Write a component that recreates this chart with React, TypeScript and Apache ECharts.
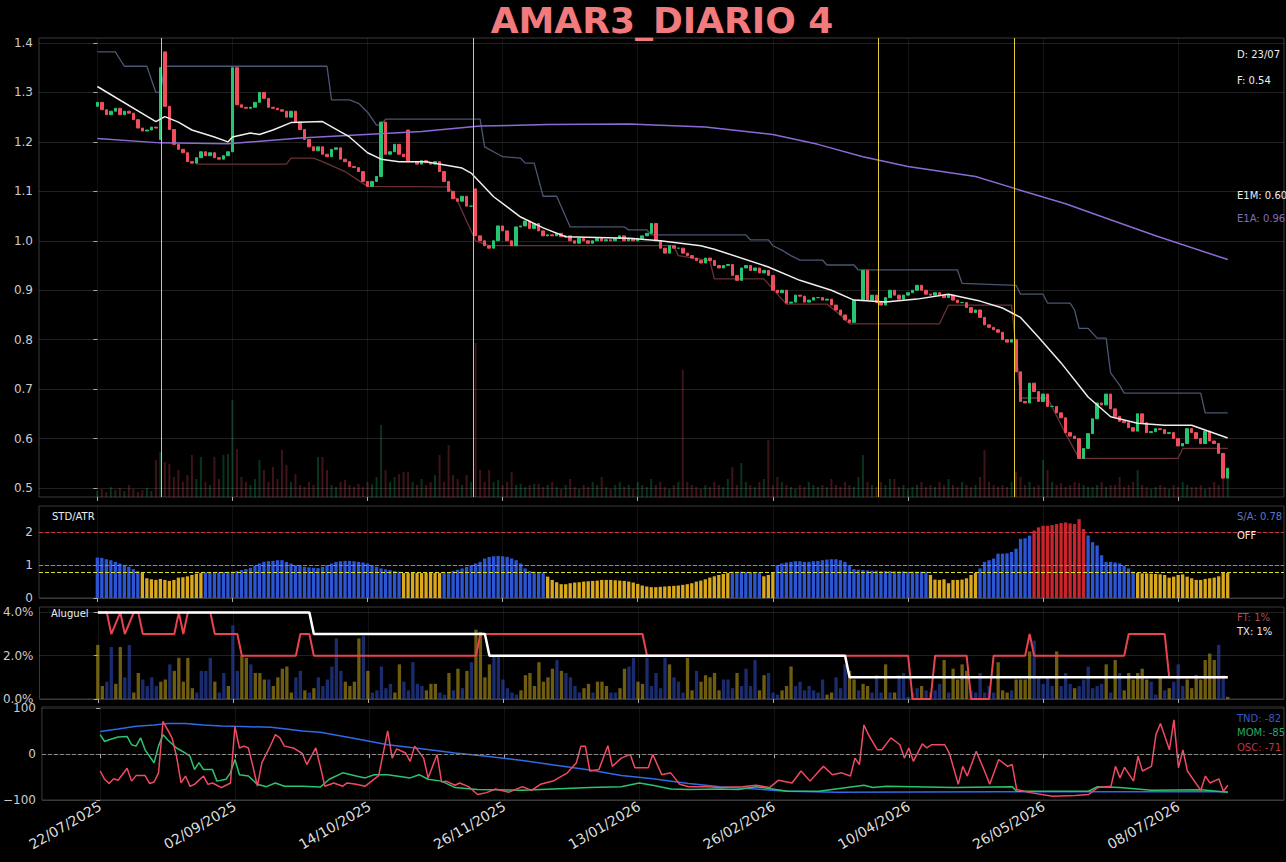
import React, { useEffect, useRef } from "react";
import * as echarts from "echarts";

const TICK_INDEX = [0, 30, 60, 90, 120, 150, 180, 210, 240];
const TICK_LABELS = ["22/07/2025", "02/09/2025", "14/10/2025", "26/11/2025", "13/01/2026", "26/02/2026", "10/04/2026", "26/05/2026", "08/07/2026"];

// closing price x1000, one per trading day
const CLOSE = [
  1280, 1265, 1255, 1262, 1268, 1255, 1262, 1258, 1245, 1228,
  1222, 1224, 1230, 1228, 1350, 1272, 1225, 1195, 1185, 1178,
  1160, 1157, 1168, 1180, 1172, 1178, 1168, 1165, 1172, 1180,
  1350, 1275, 1270, 1268, 1270, 1280, 1300, 1288, 1270, 1268,
  1265, 1262, 1250, 1262, 1240, 1225, 1205, 1190, 1182, 1190,
  1175, 1170, 1185, 1188, 1165, 1160, 1150, 1148, 1140, 1120,
  1110, 1120, 1130, 1240, 1175, 1180, 1195, 1175, 1170, 1160,
  1160, 1155, 1162, 1158, 1155, 1160, 1140, 1120, 1100, 1085,
  1080, 1090, 1070, 1070, 1010, 1000, 990, 985, 1000, 1030,
  1020, 1000, 990, 1028, 1030, 1040, 1025, 1035, 1020, 1010,
  1012, 1010, 1015, 1008, 1010, 1000, 995, 1005, 1000, 995,
  1000, 1005, 1000, 1002, 1000, 1005, 1010, 1000, 1005, 1000,
  1005, 1010, 1015, 1035, 1000, 985, 975, 990, 985, 985,
  975, 970, 965, 960, 955, 965, 960, 950, 945, 950,
  952, 930, 920, 945, 950, 940, 945, 935, 940, 930,
  900, 895, 900, 874, 876, 890, 888, 876, 880, 885,
  885, 880, 882, 870, 860, 850, 840, 835, 880, 880,
  940, 880, 890, 875, 870, 885, 900, 890, 882, 890,
  895, 900, 910, 900, 892, 890, 895, 890, 885, 890,
  880, 875, 875, 865, 855, 860, 845, 830, 825, 820,
  815, 800, 795, 800, 735, 675, 672, 712, 695, 675,
  690, 665, 665, 652, 642, 612, 605, 600, 560, 580,
  610, 640, 672, 668, 690, 660, 645, 635, 632, 622,
  615, 650, 632, 612, 614, 620, 618, 610, 612, 600,
  585, 590, 620, 612, 600, 590, 615, 595, 590, 570,
  520, 540,
];
// days whose open differs from the previous close: [day, open x1000]
const OPEN_GAPS = [[0, 1272], [14, 1205], [15, 1382], [69, 1224], [84, 1105]];

const VOLUME = [
  6, 8, 5, 10, 7, 9, 6, 12, 8, 5, 7, 9, 6,
  37, 45, 35, 33, 20, 27, 15, 22, 42, 18, 40, 15, 12, 40, 18, 42, 43,
  97, 48, 20, 15, 12, 18, 37, 27, 15, 30, 18, 47, 32, 15, 23, 12, 10, 15, 12,
  40, 40, 27, 12, 10, 15, 17, 12, 10, 13, 10, 15, 13, 20, 72, 27, 15, 20, 23, 25,
  25, 15, 12, 18, 12, 15, 22, 42, 15, 52, 22, 18, 12, 22, 15, 154, 27, 15, 27, 15,
  17, 12, 15, 25, 12, 13, 10, 12, 13, 13, 10,
  12, 15, 10, 8, 12, 18, 10, 8, 12, 10, 15, 12, 20, 10, 8, 12, 15, 10, 12, 8,
  15, 12, 10, 18, 12, 15, 10, 8, 12, 15,
  127,
  15, 12, 10, 8, 12, 10, 15, 12, 10, 18, 30, 12, 34, 15, 12, 10, 15, 18, 57, 12,
  20, 15, 12, 10, 8, 12, 10, 15, 12, 10,
  12, 10, 18, 12, 10, 15, 12, 10, 20, 42, 15, 12, 10, 15, 12, 18, 18, 10, 12, 8,
  10, 12, 15, 10, 12, 10, 15, 12, 18, 12, 10, 15, 12, 10, 12, 20, 47, 15, 12, 10,
  12, 10, 15, 25, 20, 12, 15, 10, 12, 37, 27, 15, 12, 14, 10, 12, 15, 14, 12, 10,
  10, 12, 15, 10, 12, 12, 20, 10, 12, 15, 27, 12, 10, 8, 10, 12, 10, 8, 12, 10,
  15, 12, 10, 10, 12, 8, 10, 15, 12, 40, 20,
];

const UPPER_BAND = [[0, 1.382], [4, 1.382], [6, 1.353], [11, 1.353], [13, 1.30], [14, 1.30], [15, 1.353], [51, 1.353], [52, 1.285], [56, 1.285], [58, 1.278], [60, 1.26], [62, 1.234], [63, 1.234], [64, 1.246], [85, 1.246], [86, 1.19], [90, 1.17], [94, 1.167], [95, 1.157], [97, 1.157], [99, 1.09], [102, 1.09], [105, 1.028], [117, 1.028], [118, 1.022], [122, 1.022], [123, 1.012], [144, 1.012], [145, 1.002], [149, 1.002], [150, 0.99], [152, 0.981], [154, 0.97], [156, 0.961], [161, 0.961], [162, 0.951], [168, 0.951], [169, 0.941], [191, 0.941], [192, 0.914], [204, 0.91], [205, 0.892], [210, 0.892], [211, 0.874], [216, 0.874], [217, 0.86], [218, 0.823], [220, 0.823], [222, 0.803], [224, 0.803], [225, 0.733], [227, 0.708], [228, 0.692], [245, 0.692], [246, 0.652], [251, 0.652]];
const LOWER_BAND = [[22, 1.155], [42, 1.155], [43, 1.167], [48, 1.167], [50, 1.16], [55, 1.14], [60, 1.11], [78, 1.109], [80, 1.08], [84, 1.0], [87, 0.99], [128, 0.99], [129, 0.97], [136, 0.96], [137, 0.923], [148, 0.923], [153, 0.872], [162, 0.872], [165, 0.85], [167, 0.832], [187, 0.832], [189, 0.87], [203, 0.87], [204, 0.78], [205, 0.682], [211, 0.682], [215, 0.61], [218, 0.56], [240, 0.56], [241, 0.58], [251, 0.58]];
const E1M = [[0, 1.312], [13, 1.241], [15, 1.251], [18, 1.24], [21, 1.224], [26, 1.21], [29, 1.2], [30, 1.21], [34, 1.218], [36, 1.215], [39, 1.224], [43, 1.239], [50, 1.241], [56, 1.21], [60, 1.178], [63, 1.165], [67, 1.16], [73, 1.16], [81, 1.147], [83, 1.137], [88, 1.089], [94, 1.048], [99, 1.026], [104, 1.008], [118, 1.005], [125, 1.0], [134, 0.99], [137, 0.983], [149, 0.947], [156, 0.92], [163, 0.9], [168, 0.88], [175, 0.876], [182, 0.882], [189, 0.892], [196, 0.878], [201, 0.864], [205, 0.845], [209, 0.805], [214, 0.753], [220, 0.684], [225, 0.644], [231, 0.631], [237, 0.627], [243, 0.627], [251, 0.601]];
const E1A = [[0, 1.207], [14, 1.198], [29, 1.196], [45, 1.208], [72, 1.221], [85, 1.232], [100, 1.235], [118, 1.236], [135, 1.23], [150, 1.215], [160, 1.195], [170, 1.17], [180, 1.15], [195, 1.13], [204, 1.105], [215, 1.075], [222, 1.052], [235, 1.01], [251, 0.962]];
const EVENT_DAYS = [14.3, 83.4, 173.3, 203.5];

// STD/ATR x100
const STD_ATR = [
  123, 122, 118, 115, 110, 105, 100, 95, 88, 82,
  76, 60, 57, 55, 58, 55, 52, 55, 62, 63, 66, 70, 74, 76,
  78, 78, 78, 78, 79, 80, 80, 82, 85, 88, 92, 98, 105, 110, 112, 113, 115, 115, 110, 105, 100, 98, 95, 93, 92, 91,
  95, 100, 105, 110, 112, 113, 113, 112, 110, 108, 105, 100, 95, 90, 87, 85, 82, 80,
  76, 76, 76, 76, 76, 76, 76, 76, 76,
  78, 79, 82, 86, 90, 95, 100, 105, 110, 120, 125, 127, 128, 127, 125, 120, 115, 105, 90, 82, 80, 78, 78,
  65, 55, 48, 42, 42, 45, 47, 48, 50, 51, 52, 53, 55, 55, 55, 54, 53, 52, 50, 47, 43, 38, 35, 33, 33, 34, 35, 36, 37, 38, 40, 42, 45, 50, 53, 57, 62, 66, 70, 73, 76,
  80, 80, 80, 79, 79, 78, 78,
  66, 70, 76,
  100, 105, 108, 110, 112, 112, 110, 110, 112, 113, 115, 117, 118, 118, 115, 110, 100,
  88, 86, 85, 84, 83, 83, 82, 82, 82, 81, 81, 81, 80, 80, 80, 80, 80,
  70, 56, 55, 57, 45, 55, 55, 56, 60, 70, 76,
  90, 110, 115, 120, 135, 135, 136, 140, 150, 180, 182, 190,
  205, 215, 220, 220, 222, 225, 228, 230, 227, 225, 240, 210,
  190, 170, 160, 130, 110, 110, 108, 105, 98, 90, 80,
  76, 75, 75, 74, 73, 72, 70, 62, 65, 70, 72, 65, 60, 55, 55, 58, 60, 62, 66, 76, 76,
];
const STD_THRESHOLD = 0.77;

// Aluguel bars, percent x10, and bar colour (y = yellow, b = blue)
const ALUGUEL = [
  25, 6, 8, 24, 7, 24, 10, 25, 3, 12, 9, 6, 10, 6, 8, 9, 16, 13, 19, 8,
  19, 5, 3, 13, 13, 19, 8, 3, 12, 6, 34, 13, 20, 19, 16, 12, 12, 9, 9, 6,
  10, 14, 15, 3, 10, 13, 4, 3, 5, 10, 6, 9, 15, 28, 13, 8, 6, 8, 28, 29,
  13, 3, 4, 15, 5, 7, 3, 16, 8, 4, 17, 7, 6, 4, 7, 7, 3, 2, 12, 4,
  14, 5, 13, 17, 32, 31, 10, 16, 20, 20, 9, 5, 3, 2, 4, 11, 12, 6, 17, 8,
  10, 14, 18, 13, 12, 10, 6, 3, 5, 7, 3, 8, 8, 6, 3, 3, 5, 14, 15, 19,
  8, 7, 19, 6, 12, 5, 19, 16, 10, 8, 3, 19, 4, 13, 8, 11, 10, 12, 4, 9,
  9, 5, 12, 6, 14, 6, 18, 4, 11, 12, 3, 2, 4, 6, 15, 6, 8, 4, 6, 4,
  3, 9, 2, 3, 10, 5, 16, 13, 9, 4, 7, 6, 3, 11, 3, 16, 3, 3, 11, 12,
  1, 3, 5, 6, 4, 3, 4, 7, 18, 3, 14, 9, 16, 13, 4, 3, 12, 3, 6, 3,
  17, 4, 3, 4, 9, 9, 9, 22, 27, 10, 7, 10, 6, 22, 6, 12, 7, 5, 6, 9,
  15, 5, 6, 7, 16, 3, 18, 12, 4, 12, 9, 12, 14, 9, 8, 2, 10, 4, 5, 8,
  16, 6, 9, 5, 11, 9, 18, 21, 18, 25, 11, 1,
];
const ALUGUEL_COLORS =
  "yybbyybbyy" + "bbbbyybyyy" + "yybbbbybby" + "bbyybyyyby" + "yyyybbybyb" +
  "bbbbbyyyyb" + "ybbbbbyybb" + "bbbyyybbyb" + "ybybyyyybb" + "bbbbyyyyyy" +
  "yybybbbbyy" + "byyybbyybb" + "yybbbbbybb" + "byybyyyyyb" + "bbybbbbyyb" +
  "bbyyybbbbb" + "bbyybbbyyb" + "yybbbybybb" + "bbbybbbbyb" + "yyyybbbbbb" +
  "yyybyyyybb" + "bbbybbbybb" + "bbbbybybyy" + "yyyybbybyb" + "bbyyyyyyyb" + "by";
const FT_LINE = [[0, 4], [2, 4], [3, 3], [5, 4], [6, 3], [8, 4], [9, 4], [10, 3], [17, 3], [18, 4], [19, 3], [20, 4], [25, 4], [26, 3], [31, 3], [32, 2], [44, 2], [45, 3], [47, 3], [48, 2], [84, 2], [85, 3], [121, 3], [122, 2], [180, 2], [181, 0], [185, 0], [186, 2], [193, 2], [194, 0], [198, 0], [199, 2], [206, 2], [207, 3], [208, 2], [228, 2], [229, 3], [237, 3], [238, 1], [251, 1]];
const TX_LINE = [[0, 4], [47, 4], [48, 3], [86, 3], [87, 2], [166, 2], [167, 1], [251, 1]];

const TND = [[0, 49], [4, 54], [8, 60], [12, 63], [15, 66], [19, 66], [23, 63], [27, 61], [30, 60], [38, 58], [41, 55], [45, 50], [49, 47], [57, 33], [64, 20], [72, 11], [79, 2], [86, -5], [94, -14], [101, -24], [109, -35], [116, -47], [123, -54], [131, -64], [138, -71], [146, -76], [153, -81], [164, -83], [200, -82], [251, -82]];
const MOM = [[0, 42], [1, 27], [2, 31], [4, 37], [6, 38], [7, 20], [8, 17], [9, 35], [10, 9], [12, -19], [13, 17], [14, 42], [15, 31], [17, 13], [19, 2], [20, -5], [21, -34], [22, -19], [23, -34], [25, -34], [26, -59], [28, -55], [29, -41], [30, -12], [31, -45], [33, -48], [35, -66], [37, -71], [39, -63], [41, -70], [45, -70], [49, -72], [51, -55], [54, -41], [57, -48], [59, -52], [61, -45], [64, -45], [69, -52], [71, -45], [73, -55], [76, -59], [79, -73], [84, -77], [94, -79], [109, -73], [116, -71], [120, -63], [123, -68], [127, -76], [131, -77], [138, -76], [142, -77], [146, -71], [153, -81], [160, -81], [170, -68], [172, -73], [175, -70], [190, -73], [203, -71], [204, -81], [220, -81], [222, -71], [227, -73], [234, -79], [245, -78], [251, -83]];
const OSC = [[0, -37], [1, -55], [2, -64], [3, -54], [4, -57], [6, -31], [7, -59], [8, -47], [10, -47], [11, -64], [12, -61], [13, -41], [14, 71], [15, 53], [16, 35], [17, -5], [18, -63], [19, -48], [20, -70], [21, -66], [23, -48], [24, -66], [25, -63], [27, -73], [29, -63], [30, 60], [31, 13], [32, 17], [33, 13], [34, -27], [35, -70], [36, -19], [38, 20], [39, 42], [40, 35], [41, 17], [43, 13], [45, 1], [46, -23], [48, 13], [49, -27], [50, -70], [52, -63], [54, -70], [55, -63], [57, -66], [59, -70], [62, -47], [64, 50], [65, -9], [66, 11], [68, 2], [69, -16], [70, 17], [72, -9], [73, -52], [75, -1], [76, -61], [77, -59], [79, -68], [80, -63], [82, -71], [84, -88], [86, -84], [88, -76], [91, -83], [94, -71], [96, -79], [98, -66], [101, -58], [104, -41], [106, -19], [107, 17], [108, 17], [109, -37], [111, -34], [113, 18], [114, -27], [116, -9], [118, -1], [119, -30], [122, -30], [123, -1], [125, -45], [127, -41], [129, -66], [131, -71], [135, -71], [138, -73], [143, -71], [146, -68], [149, -73], [151, -57], [154, -63], [156, -37], [158, -59], [160, -37], [161, -27], [163, -45], [165, -41], [167, -48], [168, -9], [169, -23], [170, 63], [171, 42], [173, 9], [174, 9], [176, 35], [178, 20], [179, -9], [180, 13], [181, -16], [183, 22], [184, 13], [185, 20], [188, 20], [189, 2], [191, -66], [192, -27], [193, -48], [195, 6], [197, -41], [198, -66], [200, -12], [202, -27], [203, -23], [204, -77], [207, -84], [212, -92], [217, -90], [220, -88], [222, -73], [225, -70], [226, -27], [227, -52], [228, -29], [230, -59], [231, -5], [232, -37], [234, -27], [235, 42], [236, 66], [238, 9], [239, 74], [240, -30], [241, 9], [242, -37], [245, -79], [246, -48], [247, -63], [249, -54], [250, -81], [251, -68]];

const FONT = '"DejaVu Sans", sans-serif';
const UP = "#26c56f";
const DOWN = "#f04e5c";

export default function App() {
  const ref = useRef<HTMLDivElement>(null);

  useEffect(() => {
    document.body.style.margin = "0";
    document.body.style.background = "#000";
    const chart = echarts.init(ref.current!, null, { renderer: "svg" });

    const candles = CLOSE.map((c, i) => {
      const gap = OPEN_GAPS.find((g) => g[0] === i);
      const o = (gap ? gap[1] : i > 0 ? CLOSE[i - 1] : c) / 1000;
      const cl = c / 1000;
      return [i, o, cl, Math.min(o, cl), Math.max(o, cl)];
    });
    const volumeData = VOLUME.map((v, i) => ({
      value: [i, v],
      itemStyle: { color: candles[i][2] >= candles[i][1] ? "rgba(38,197,111,0.26)" : "rgba(240,78,92,0.26)" },
    }));
    const stdData = STD_ATR.map((v, i) => {
      const val = v / 100;
      const color = val > 2 ? "#c8262c" : val >= STD_THRESHOLD ? "#2c55d3" : "#d9a81c";
      return { value: [i, val], itemStyle: { color } };
    });
    const alugData = ALUGUEL.map((v, i) => ({
      value: [i, v / 10],
      itemStyle: { color: ALUGUEL_COLORS[i] === "y" ? "rgba(200,170,30,0.55)" : "rgba(50,80,200,0.55)" },
    }));

    const tickFmt = (v: number) => {
      const k = TICK_INDEX.indexOf(Math.round(v));
      return k >= 0 ? TICK_LABELS[k] : "";
    };
    const gridBase = { left: 39, right: 2, show: true, borderColor: "#3a3a3a", borderWidth: 1, backgroundColor: "#000" };
    const xAxis = [0, 1, 2, 3].map((g) => ({
      type: "value",
      gridIndex: g,
      min: -12.95,
      max: 263.5,
      axisLine: { show: false },
      axisTick: { show: true, customValues: TICK_INDEX, length: 4, lineStyle: { color: "#aaa" } },
      axisLabel: {
        show: g === 3,
        customValues: TICK_INDEX,
        formatter: tickFmt,
        rotate: 30,
        color: "#ddd",
        fontSize: 14,
        fontFamily: FONT,
        margin: 5,
      },
      splitLine: { show: true, lineStyle: { color: "rgba(255,255,255,0.07)", width: 1 } },
    }));
    const yBase = (g: number, min: number, max: number, vals: number[], fmt: (v: number) => string) => ({
      type: "value",
      gridIndex: g,
      min,
      max,
      axisLine: { show: false },
      axisTick: { show: true, customValues: vals, length: 4, lineStyle: { color: "#aaa" } },
      axisLabel: { customValues: vals, formatter: fmt, color: "#ccc", fontSize: 12, fontFamily: FONT, margin: 6 },
      splitLine: { show: true, lineStyle: { color: "rgba(255,255,255,0.13)", width: 1 } },
    });
    const minus = (v: number) => (v < 0 ? "\u2212" + Math.abs(v) : String(v));

    const lineS = (data: number[][], color: string, width: number, xi: number, yi: number, extra: any = {}) => ({
      type: "line",
      xAxisIndex: xi,
      yAxisIndex: yi,
      data,
      showSymbol: false,
      symbol: "none",
      lineStyle: { color, width },
      silent: true,
      z: 3,
      ...extra,
    });
    const hLine = (y: number, color: string, type: any = "dashed") => ({
      yAxis: y,
      lineStyle: { color, type, width: 1 },
    });

    chart.setOption({
      animation: false,
      backgroundColor: "#000",
      textStyle: { fontFamily: FONT },
      grid: [
        { ...gridBase, top: 38, height: 459 },
        { ...gridBase, top: 506, height: 92 },
        { ...gridBase, top: 607, height: 92 },
        { ...gridBase, top: 707, height: 93 },
      ],
      xAxis,
      yAxis: [
        yBase(0, 0.4818, 1.4101, [0.5, 0.6, 0.7, 0.8, 0.9, 1.0, 1.1, 1.2, 1.3, 1.4], (v) => v.toFixed(1)),
        { type: "value", gridIndex: 0, min: 0, max: 459, show: false, splitLine: { show: false } },
        yBase(1, 0, 2.8, [0, 1, 2], (v) => String(Math.round(v))),
        yBase(2, 0, 4.25, [0, 2, 4], (v) => v.toFixed(1) + "%"),
        yBase(3, -100, 102, [-100, 0, 100], minus),
      ],
      series: [
        { type: "bar", xAxisIndex: 0, yAxisIndex: 1, data: volumeData, barWidth: 2, silent: true, z: 1 },
        lineS(UPPER_BAND, "#4b5672", 1.3, 0, 0, {
          z: 1.5,
          markLine: {
            silent: true,
            symbol: ["none", "none"],
            label: { show: false },
            lineStyle: { color: "#e2cc3a", type: "solid", width: 1 },
            data: EVENT_DAYS.map((d) => ({ xAxis: d })),
          },
        }),
        lineS(LOWER_BAND, "#6a3234", 1.3, 0, 0, { z: 1.5 }),
        {
          type: "candlestick",
          xAxisIndex: 0,
          yAxisIndex: 0,
          data: candles,
          encode: { x: 0, y: [1, 2, 3, 4] },
          barWidth: 3,
          silent: true,
          z: 2,
          itemStyle: { color: UP, color0: DOWN, borderColor: UP, borderColor0: DOWN, borderWidth: 1 },
        },
        lineS(E1A, "#8a6bd6", 1.5, 0, 0),
        lineS(E1M, "#eeeeee", 1.5, 0, 0),
        {
          type: "bar",
          xAxisIndex: 1,
          yAxisIndex: 2,
          data: stdData,
          barWidth: 3.3,
          silent: true,
          markLine: {
            silent: true,
            symbol: ["none", "none"],
            label: { show: false },
            data: [hLine(2, "#c8303c"), hLine(1, "#8a8a8a"), hLine(STD_THRESHOLD, "#dede2a")],
          },
        },
        { type: "bar", xAxisIndex: 2, yAxisIndex: 3, data: alugData, barWidth: 3.3, silent: true },
        lineS(FT_LINE, "#e8434f", 2, 2, 3),
        lineS(TX_LINE, "#ffffff", 2.5, 2, 3),
        lineS(TND, "#2f6be6", 1.5, 3, 4, {
          markLine: {
            silent: true,
            symbol: ["none", "none"],
            label: { show: false },
            data: [hLine(0, "#8a8a8a")],
          },
        }),
        lineS(MOM, "#2bc46e", 1.5, 3, 4),
        lineS(OSC, "#f04a62", 1.5, 3, 4),
      ],
      graphic: [
        { type: "text", x: 662, y: 20, style: { text: "AMAR3_DIARIO 4", fill: "#f27a7d", font: `bold 36px ${FONT}`, textAlign: "center", textVerticalAlign: "middle" } },
        ...[
          ["D: 23/07", 54, "#eeeeee"],
          ["F: 0.54", 80, "#eeeeee"],
          ["E1M: 0.60", 195, "#eeeeee"],
          ["E1A: 0.96", 218, "#7f6cc0"],
          ["S/A: 0.78", 516, "#5877c8"],
          ["OFF", 535, "#eeeeee"],
          ["FT: 1%", 617, "#b84a4e"],
          ["TX: 1%", 631, "#eeeeee"],
          ["TND: -82", 718, "#3558c8"],
          ["MOM: -85", 732, "#28a862"],
          ["OSC: -71", 747, "#b83a48"],
          ["STD/ATR", 516, "#eeeeee", 52],
          ["Aluguel", 613, "#eeeeee", 51],
        ].map(([t, y, c, x]) => ({
          type: "text",
          x: (x as number) ?? 1237,
          y: y as number,
          z: 10,
          style: { text: t as string, fill: c as string, font: `10px ${FONT}`, textAlign: "left", textVerticalAlign: "middle" },
        })),
      ],
    });
    return () => chart.dispose();
  }, []);

  return <div ref={ref} style={{ position: "absolute", left: 0, top: 0, width: 1286, height: 862, background: "#000" }} />;
}
